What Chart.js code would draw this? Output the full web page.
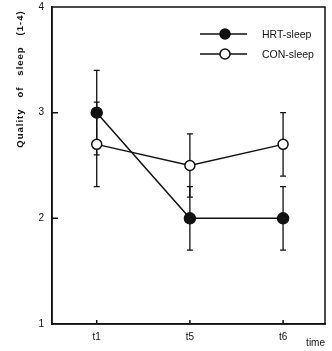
<!DOCTYPE html>
<html>
<head>
<meta charset="utf-8">
<script src="https://cdn.jsdelivr.net/npm/chart.js@4"></script>
<style>
  html, body { margin: 0; padding: 0; background: #fff; }
  #wrap { width: 332px; height: 351px; }
</style>
</head>
<body>
<div id="wrap"><canvas id="sleepChart" width="332" height="351"></canvas></div>
<script>
// time points and their positions on the x axis
const TIMES = ["t1", "t5", "t6"];
const TIME_POS = [1, 2, 3];

const HRT = [3.0, 2.0, 2.0];
const HRT_LOW = [2.6, 1.7, 1.7];
const HRT_HIGH = [3.4, 2.3, 2.3];

const CON = [2.7, 2.5, 2.7];
const CON_LOW = [2.3, 2.2, 2.4];
const CON_HIGH = [3.1, 2.8, 3.0];

const Y_TICKS = [1, 2, 3, 4];

const FONT = "'Liberation Sans', Arial, sans-serif";

function toPoints(values) {
    return values.map((v, i) => ({ x: TIME_POS[i], y: v }));
}

// vertical error bars with caps, drawn behind the markers
const errorBars = {
    id: "errorBars",
    beforeDatasetsDraw(chart) {
        const ctx = chart.ctx;
        const y = chart.scales.y;
        ctx.save();
        ctx.strokeStyle = "#111";
        ctx.lineWidth = 1.3;
        chart.data.datasets.forEach((ds, di) => {
            const meta = chart.getDatasetMeta(di);
            meta.data.forEach((pt, i) => {
                const top = y.getPixelForValue(ds.errHigh[i]);
                const bot = y.getPixelForValue(ds.errLow[i]);
                ctx.beginPath();
                ctx.moveTo(pt.x, top);
                ctx.lineTo(pt.x, bot);
                ctx.moveTo(pt.x - 3, top);
                ctx.lineTo(pt.x + 3, top);
                ctx.moveTo(pt.x - 3, bot);
                ctx.lineTo(pt.x + 3, bot);
                ctx.stroke();
            });
        });
        ctx.restore();
    }
};

// frame, inward tick marks, rotated y title and the small legend
const decorations = {
    id: "decorations",
    afterDraw(chart) {
        const ctx = chart.ctx;
        const a = chart.chartArea;
        const xs = chart.scales.x;
        const ys = chart.scales.y;
        ctx.save();
        ctx.strokeStyle = "#111";
        ctx.lineWidth = 1.5;
        ctx.strokeRect(a.left, a.top, a.right - a.left, a.bottom - a.top);

        ctx.beginPath();
        Y_TICKS.slice(1, -1).forEach(v => {
            const py = ys.getPixelForValue(v);
            ctx.moveTo(a.left, py);
            ctx.lineTo(a.left + 6, py);
        });
        TIME_POS.forEach(v => {
            const px = xs.getPixelForValue(v);
            ctx.moveTo(px, a.bottom);
            ctx.lineTo(px, a.bottom - 4);
        });
        ctx.stroke();

        ctx.fillStyle = "#111";
        ctx.font = "bold 9.5px " + FONT;
        ctx.letterSpacing = "1px";
        ctx.translate(20, 79);
        ctx.rotate(-Math.PI / 2);
        ctx.textAlign = "center";
        ctx.textBaseline = "middle";
        ctx.fillText("Quality   of   sleep   (1-4)", 0, 0);
        ctx.restore();

        ctx.save();
        ctx.font = "10.5px " + FONT;
        ctx.textBaseline = "middle";
        chart.data.datasets.forEach((ds, i) => {
            const ly = 34 + i * 20;
            ctx.strokeStyle = "#111";
            ctx.lineWidth = 1.5;
            ctx.beginPath();
            ctx.moveTo(200, ly);
            ctx.lineTo(247, ly);
            ctx.stroke();
            ctx.beginPath();
            ctx.arc(225, ly, 5, 0, Math.PI * 2);
            ctx.fillStyle = ds.pointBackgroundColor;
            ctx.fill();
            ctx.stroke();
            ctx.fillStyle = "#111";
            ctx.fillText(ds.label, 262, ly + 1);
        });
        ctx.restore();
    }
};

new Chart(document.getElementById("sleepChart"), {
    type: "line",
    data: {
        datasets: [
            {
                label: "HRT-sleep",
                data: toPoints(HRT),
                errLow: HRT_LOW,
                errHigh: HRT_HIGH,
                borderColor: "#111",
                borderWidth: 1.5,
                pointRadius: 5.5,
                pointBorderWidth: 1.5,
                pointBorderColor: "#111",
                pointBackgroundColor: "#111",
                tension: 0
            },
            {
                label: "CON-sleep",
                data: toPoints(CON),
                errLow: CON_LOW,
                errHigh: CON_HIGH,
                borderColor: "#111",
                borderWidth: 1.5,
                pointRadius: 5,
                pointBorderWidth: 1.5,
                pointBorderColor: "#111",
                pointBackgroundColor: "#fff",
                tension: 0
            }
        ]
    },
    options: {
        responsive: false,
        animation: false,
        layout: { padding: { top: 0, right: 6, left: 0, bottom: 0 } },
        plugins: {
            legend: { display: false },
            tooltip: { enabled: false }
        },
        scales: {
            x: {
                type: "linear",
                min: 0.52,
                max: 3.45,
                afterBuildTicks(scale) {
                    scale.ticks = TIME_POS.map(v => ({ value: v }));
                },
                afterFit(scale) { scale.height = 27; },
                ticks: {
                    color: "#111",
                    font: { family: FONT, size: 10 },
                    padding: 7,
                    maxRotation: 0,
                    callback: (v) => TIMES[TIME_POS.indexOf(v)] || ""
                },
                grid: { drawOnChartArea: false, drawTicks: false, tickLength: 0 },
                border: { color: "#111", width: 1.5 },
                title: {
                    display: true,
                    text: "time",
                    align: "end",
                    color: "#111",
                    font: { family: FONT, size: 10 },
                    padding: { top: 0, bottom: 2 }
                }
            },
            y: {
                min: 1,
                max: 4,
                afterBuildTicks(scale) {
                    scale.ticks = Y_TICKS.map(v => ({ value: v }));
                },
                afterFit(scale) {
                    scale.width = 52;
                    scale.paddingTop = 5;
                },
                ticks: {
                    color: "#111",
                    font: { family: FONT, size: 10, lineHeight: 1 },
                    padding: 8
                },
                grid: { drawOnChartArea: false, drawTicks: false, tickLength: 0 },
                border: { color: "#111", width: 1.5 }
            }
        }
    },
    plugins: [errorBars, decorations]
});
</script>
</body>
</html>
